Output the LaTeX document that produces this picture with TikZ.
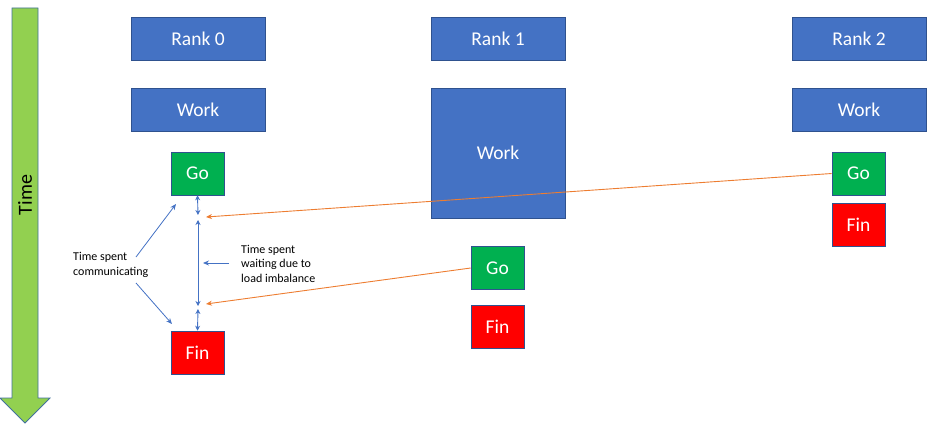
\documentclass[tikz,border=0pt]{standalone}
\usepackage{fontspec}
\setmainfont{Carlito}
\usetikzlibrary{arrows.meta}
\definecolor{boxblue}{HTML}{4472C4}
\definecolor{edgeblue}{HTML}{2F528F}
\definecolor{gogreen}{HTML}{00B050}
\definecolor{finred}{HTML}{FF0000}
\definecolor{msgorange}{HTML}{ED7D31}
\definecolor{timegreen}{HTML}{92D050}
\definecolor{timeedge}{HTML}{41719C}
\tikzset{
  box/.style={draw=edgeblue, line width=0.6pt, text=white, inner sep=0pt,
    font=\fontsize{19.5}{22}\selectfont},
  rankbox/.style={box, fill=boxblue, minimum width=134pt, minimum height=43pt},
  gobox/.style={box, fill=gogreen, minimum width=53pt, minimum height=43pt},
  finbox/.style={box, fill=finred, minimum width=53pt, minimum height=43pt},
  msg/.style={draw=msgorange, line width=0.9pt, -{Stealth[length=6pt,width=5pt]}},
  span/.style={draw=boxblue, line width=0.9pt, {Stealth[length=5pt,width=5pt]}-{Stealth[length=5pt,width=5pt]}},
  note/.style={draw=boxblue, line width=0.8pt, -{Stealth[length=6pt,width=5pt]}},
  lbl/.style={align=left, inner sep=0pt, font=\fontsize{12}{14.5}\selectfont}
}
\begin{document}
\begin{tikzpicture}[x=1pt,y=-1pt]
\useasboundingbox (0,0) rectangle (934,428);
% time arrow
\draw[fill=timegreen, draw=timeedge, line width=0.8pt]
  (12,8) -- (38,8) -- (38,398) -- (50,398) -- (25,423) -- (0,398) -- (12,398) -- cycle;
\node[rotate=90, font=\fontsize{20}{22}\selectfont] (time) at (25,195) {Time};
% ranks
\node[rankbox] (r0) at (198,38.5) {Rank 0};
\node[rankbox] (r1) at (498,38.5) {Rank 1};
\node[rankbox] (r2) at (859,38.5) {Rank 2};
\node[rankbox] (w0) at (198,109.5) {Work};
\node[rankbox, minimum height=130pt] (w1) at (498,153) {};
\node[text=white, font=\fontsize{19.5}{22}\selectfont] (w1t) at (498,153) {Work};
\node[rankbox] (w2) at (859,109.5) {Work};
% go / fin
\node[gobox] (g0) at (197.5,173.5) {Go};
\node[finbox] (f0) at (197.5,352.5) {Fin};
\node[gobox] (g1) at (497.5,268) {Go};
\node[finbox] (f1) at (497.5,326.5) {Fin};
\node[gobox] (g2) at (858.5,173.5) {Go};
\node[finbox] (f2) at (858.5,225) {Fin};
% span markers
\coordinate (m1) at (198,215);
\coordinate (m2) at (198,220);
\coordinate (m3) at (198,306);
\coordinate (m4) at (198,309);
\draw[span] (g0.south) -- (m1);
\draw[span] (m2) -- (m3);
\draw[span] (m4) -- (f0.north);
% messages
\coordinate (h1) at (206,217);
\coordinate (h2) at (206,304);
\draw[msg] (g2.west) -- (h1);
\draw[msg] (g1.west) -- (h2);
% labels
\node[lbl, anchor=west] (comm) at (73,265) {Time spent\\communicating};
\node[lbl, anchor=west] (wait) at (241,263.5) {Time spent\\waiting due to\\load imbalance};
\coordinate (c1) at (136,257);
\coordinate (c2) at (176,204);
\coordinate (c3) at (136,283);
\coordinate (c4) at (172,324);
\draw[note] (c1) -- (c2);
\draw[note] (c3) -- (c4);
\coordinate (wa) at (229,263);
\coordinate (wb) at (203,263);
\draw[note] (wa) -- (wb);
\end{tikzpicture}
\end{document}
